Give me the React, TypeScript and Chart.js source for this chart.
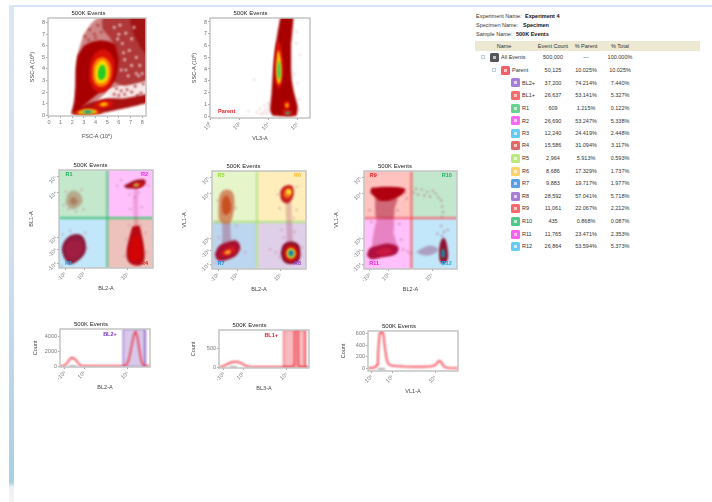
import React, { useEffect, useRef } from "react";
import { Chart, registerables } from "chart.js";

Chart.register(...registerables);

type P = [number, number];
const FONT = "'Liberation Sans', Arial, sans-serif";

// ---------- Row 1, plot 1: FSC-A / SSC-A contours
const fsPale: P[] = [[1.95,0.1],[2.2,1.5],[2.3,3.5],[2.45,5.2],[3.0,7.0],[3.6,7.9],[4.3,8.5],[8.5,8.5],[8.5,3.2],[6.8,2.6],[5.2,2.2],[3.5,0.6],[1.95,0.1]];
const fsMid: P[] = [[4.6,8.5],[8.5,8.5],[8.5,3.1],[6.5,2.55],[5.4,3.0],[5.9,5.2],[5.3,6.6],[4.6,7.5],[4.6,8.5]];
const fsDeep: P[] = [[6.9,8.5],[8.5,8.5],[8.5,5.2],[7.9,5.8],[7.2,7.2],[6.9,8.5]];
const fsGap: P[] = [[5.0,2.15],[6.6,2.7],[8.5,3.2],[8.5,1.55],[6.6,1.25],[5.2,1.4],[5.0,2.15]];
const fsBand: P[] = [[1.9,0.12],[3.2,0.95],[5.0,1.45],[6.5,1.45],[8.5,1.8],[8.5,1.1],[6.6,0.62],[4.6,0.2],[3.0,0.06],[1.9,0.12]];
const fsBody: P[] = [[1.95,0.15],[2.2,1.2],[2.3,2.6],[2.3,4.0],[2.45,5.1],[3.0,6.0],[3.7,6.35],[4.4,6.5],[5.1,6.4],[5.7,6.1],[6.0,5.0],[5.9,4.0],[5.7,3.1],[5.3,2.5],[4.4,2.0],[3.2,1.0],[2.6,0.4],[1.95,0.15]];
const fsRed: P[] = [[3.45,3.0],[3.55,4.4],[4.0,5.4],[4.7,5.7],[5.4,5.2],[5.65,4.1],[5.4,2.8],[4.8,2.0],[4.0,2.1],[3.45,3.0]];
const fsOrange: P[] = [[3.75,3.2],[3.8,4.3],[4.2,4.9],[4.75,5.0],[5.25,4.5],[5.35,3.6],[5.1,2.8],[4.6,2.45],[4.05,2.6],[3.75,3.2]];
const fsYellow: P[] = [[3.98,3.2],[4.0,4.1],[4.35,4.65],[4.75,4.7],[5.05,4.2],[5.12,3.5],[4.9,2.95],[4.5,2.75],[4.15,2.85],[3.98,3.2]];
const fsGreen: P[] = [[4.2,3.4],[4.25,3.95],[4.5,4.35],[4.75,4.3],[4.88,3.8],[4.82,3.3],[4.55,3.05],[4.3,3.1],[4.2,3.4]];
const fsMidRed: P[] = [[3.8,0.8],[4.2,1.15],[4.9,1.3],[5.5,1.1],[5.4,0.75],[4.7,0.58],[4.0,0.6],[3.8,0.8]];
const fsMidOrange: P[] = [[4.2,0.9],[4.7,1.1],[5.1,1.0],[5.0,0.8],[4.6,0.74],[4.2,0.9]];
const fsMidYellow: P[] = [[4.4,0.92],[4.7,1.02],[4.95,0.95],[4.7,0.84],[4.4,0.92]];
const fsLowRed: P[] = [[2.0,0.12],[2.6,0.45],[3.4,0.62],[4.4,0.5],[4.6,0.2],[3.7,0.04],[2.6,0.02],[2.0,0.12]];
const fsLowYellow: P[] = [[2.4,0.22],[3.1,0.5],[3.9,0.46],[4.2,0.22],[3.4,0.08],[2.6,0.1],[2.4,0.22]];
const fsLowGreen: P[] = [[2.7,0.26],[3.3,0.42],[3.8,0.34],[3.7,0.18],[3.2,0.14],[2.7,0.26]];
const fsLowBlue: P[] = [[3.0,0.28],[3.35,0.36],[3.6,0.28],[3.3,0.2],[3.0,0.28]];
const fsPaleSpecks: P[] = [[6.1,7.8],[6.6,7.1],[7.1,6.6],[6.3,6.2],[6.9,5.6],[7.5,5.0],[6.5,4.8],[7.1,4.3],[7.8,4.3],[6.2,3.9],[6.8,3.4],[7.5,3.6],[8.0,3.6],[6.0,7.0],[6.4,5.4],[7.3,7.6],[5.6,7.6],[5.9,6.6],[7.7,3.4],[6.6,3.9]];
const fsDarkSpecks: P[] = [[3.1,6.8],[3.5,7.4],[3.9,7.0],[4.2,7.8],[4.5,7.2],[3.4,6.5],[4.0,6.7],[4.7,8.0],[5.0,7.4],[5.8,2.3],[6.2,2.1],[6.7,2.2],[7.1,2.0],[6.5,1.8],[7.4,2.5],[7.9,1.9],[8.1,2.7],[5.6,1.8],[6.0,1.7],[7.6,1.7]];

// ---------- Row 1, plot 2: VL3-A / SSC-A
const vsBody: P[] = [[4.85,8.7],[4.6,7],[4.42,5.5],[4.3,4],[4.25,3],[4.2,2],[4.1,0.5],[4.3,0.02],[5.9,0.02],[6.0,0.8],[5.75,2],[5.6,3],[5.55,4],[5.55,6],[5.7,8.7],[4.85,8.7]];
const vsRed: P[] = [[4.52,6.1],[4.4,4.5],[4.46,3.0],[4.7,2.3],[4.95,3.0],[5.0,4.5],[4.84,6.0],[4.65,6.4],[4.52,6.1]];
const vsYellow: P[] = [[4.6,5.3],[4.52,4.2],[4.58,3.0],[4.72,2.7],[4.86,3.2],[4.86,4.4],[4.76,5.3],[4.66,5.6],[4.6,5.3]];
const vsGreen: P[] = [[4.64,4.5],[4.6,3.7],[4.66,3.2],[4.74,3.1],[4.8,3.6],[4.78,4.4],[4.7,4.7],[4.64,4.5]];
const vsLowRed: P[] = [[4.95,0.2],[5.0,0.55],[5.28,0.6],[5.6,0.45],[5.65,0.15],[5.3,0.02],[4.95,0.2]];
const vsLowGreen: P[] = [[5.15,0.22],[5.28,0.4],[5.42,0.32],[5.42,0.14],[5.28,0.08],[5.15,0.22]];
const vsUpRed: P[] = [[5.02,0.85],[5.08,1.2],[5.3,1.3],[5.48,1.1],[5.45,0.7],[5.25,0.55],[5.02,0.85]];
const vsUpYellow: P[] = [[5.14,0.9],[5.22,1.1],[5.34,1.05],[5.36,0.8],[5.24,0.7],[5.14,0.9]];
const vsSparse: P[] = [[3.2,0.3],[3.4,0.6],[3.6,0.25],[3.7,0.9],[3.75,0.45],[3.85,0.2],[3.9,0.65],[3.95,1.1],[4.0,0.4],[4.05,0.9],[3.0,3.1],[6.05,0.5],[6.1,1.4],[6.15,5.2],[5.9,6.2],[5.95,7.2],[6.0,2.8],[5.8,3.6],[3.5,0.15],[2.6,0.4]];
const parentLabel = [{ x: 1.1, y: 0.42, text: "Parent", color: "#ee1c25" }];

// ---------- Row 2, plot A: BL2-A / BL1-A (axis units 0-100)
const r1Cloud: P[] = [[7,66],[9,75],[15,79],[22,76],[25,68],[20,62],[13,60],[7,66]];
const r1Core: P[] = [[11,67],[13,72],[17,72],[20,68],[16,64],[11,67]];
const r3Blob: P[] = [[5,11],[3,20],[7,29],[14,34],[23,34],[28,27],[28,16],[21,8],[11,4],[5,11]];
const r3Core: P[] = [[9,12],[7,20],[11,27],[19,29],[25,24],[23,14],[15,8],[9,12]];
const r2Blob: P[] = [[69,84],[75,87],[83,90],[91,90],[92,86],[86,82],[78,81],[71,82],[69,84]];
const r2Red: P[] = [[76,84],[82,87],[89,87],[89,84],[82,82],[76,84]];
const r2Yellow: P[] = [[79,84.5],[82,86.5],[85,85.5],[84,83.5],[80,83.5],[79,84.5]];
const r2Blue: P[] = [[81,84.8],[83,85.5],[84,84.7],[82,84],[81,84.8]];
const r2Plume: P[] = [[80,81],[79,66],[80,50],[84,50],[84,66],[84,81],[80,81]];
const r4Blob: P[] = [[78,42],[75,32],[72,18],[73,8],[79,3],[87,3],[91,10],[90,24],[88,34],[85,43],[78,42]];
const r4Core: P[] = [[79,31],[75,18],[77,9],[84,7],[88,14],[87,26],[83,33],[79,31]];
const r4Plume: P[] = [[80,50],[80,38],[84,38],[84,50],[80,50]];
const blA: P[] = [[5,64],[7,78],[24,80],[26,60],[18,58],[10,60],[3,2],[30,20],[4,34],[28,36],[12,38],[71,30],[92,36],[70,12],[93,16],[74,44],[87,44],[76,60],[88,62],[81,72],[75,75],[85,77],[62,84],[66,90],[95,84]];

// ---------- Row 2, plot B: BL2-A / VL1-A
const r5Cloud: P[] = [[7,52],[7,66],[9,77],[15,81],[22,78],[24,66],[22,54],[19,47],[10,47],[7,52]];
const r5Core: P[] = [[11,58],[11,70],[15,75],[19,71],[20,60],[15,55],[11,58]];
const r5Plume: P[] = [[11,48],[11,35],[11,22],[21,22],[20,34],[19,48],[11,48]];
const r7Blob: P[] = [[3,15],[7,23],[15,27],[25,29],[30,23],[26,14],[15,9],[6,9],[3,15]];
const r7Red: P[] = [[8,15],[15,21],[23,23],[25,18],[15,13],[8,15]];
const r7Orange: P[] = [[12,16],[16,19],[20,19],[18,15],[12,16]];
const r6Red: P[] = [[73,72],[73,80],[78,85],[85,85],[87,78],[85,71],[80,67],[75,69],[73,72]];
const r6Orange: P[] = [[76,75],[78,81],[84,82],[85,76],[80,72],[76,75]];
const r6Yellow: P[] = [[79,77],[80,81],[84,80],[83,76],[79,77]];
const r6Plume: P[] = [[78,70],[79,50],[80,26],[86,26],[85,50],[84,70],[78,70]];
const r8Dark: P[] = [[73,16],[76,25],[84,28],[92,25],[94,16],[92,8],[84,5],[76,8],[73,16]];
const r8Red: P[] = [[76,16],[78,22],[84,25],[90,22],[92,16],[90,10],[84,7],[78,10],[76,16]];
const r8Yellow: P[] = [[79,16],[80.5,20],[84,21.5],[87.5,20],[89,16],[87.5,12],[84,10.5],[80.5,12],[79,16]];
const r8Green: P[] = [[80.5,16],[82,19],[84,20],[86,19],[87.5,16],[86,13],[84,12],[82,13],[80.5,16]];
const r8Blue: P[] = [[82,16],[84,18.5],[86,16],[84,14],[82,16]];
const blB: P[] = [[5,48],[6,70],[25,62],[26,44],[7,32],[24,30],[30,20],[35,17],[3,6],[62,20],[68,17],[72,12],[95,14],[96,22],[72,62],[90,60],[70,76],[90,84],[74,40],[88,38],[76,32],[87,52]];

// ---------- Row 2, plot C: BL2-A / VL1-A
const r9Band: P[] = [[8,83],[25,84],[44,82],[42,77],[36,73],[28,70],[16,70],[10,75],[7,78],[8,83]];
const r9Fade: P[] = [[12,72],[12,62],[13,52],[32,52],[33,62],[36,72],[12,72]];
const r11Plume: P[] = [[14,52],[11,40],[9,22],[36,22],[32,36],[32,52],[14,52]];
const r11Blob: P[] = [[3,14],[6,21],[15,24],[26,26],[37,22],[34,15],[20,12],[8,10],[3,14]];
const r11Core: P[] = [[12,16],[18,21],[28,21],[30,17],[20,14],[12,16]];
const r12Blob: P[] = [[81,10],[81,22],[84,31],[87,31],[90,20],[90,10],[86,5],[83,6],[81,10]];
const r12Green: P[] = [[83,14],[84,20],[86,20],[87,14],[85,11],[83,14]];
const r12Blue: P[] = [[84,15],[85,18],[86,15],[85,13],[84,15]];
const r12Left: P[] = [[56,17],[62,21],[72,24],[80,20],[74,15],[64,14],[56,17]];
const blC: P[] = [[53,78],[56,82],[58,76],[62,81],[65,75],[68,79],[71,74],[74,80],[77,77],[80,73],[83,70],[84,64],[85,58],[84,53],[83,44],[86,38],[84,34],[44,78],[46,72],[6,60],[8,48],[38,46],[36,60],[40,30],[42,20],[47,18],[50,16],[79,36],[90,40]];

// ---------- Row 3 histograms
const histAx = [0,2,4,6,8,10,12,14,16,18,20,22,24,27,30,40,50,60,66,70,72,74,76,78,80,82,84,86,88,90,92,94,97,100];
const histAy = [0,10,30,150,420,800,1080,1120,1000,760,420,160,40,8,5,4,4,5,8,20,60,180,700,1700,3000,4200,4640,3900,2300,800,200,40,5,0];
const histBx = [0,3,5,8,11,14,17,19,22,25,28,31,34,40,50,60,68,74,78,82,83.5,84,87.5,88,90,93,96,100];
const histBy = [2,6,25,60,100,125,136,139,125,95,55,22,8,3,2,2,3,4,6,10,60,1200,1200,50,8,4,2,2];
const histCx = [0,4,8,10,11,12,13,15,17,19,21,23,26,30,40,50,60,68,72,75,77,79,81,83,85,88,92,100];
const histCy = [5,8,20,60,200,440,600,640,600,330,130,70,48,40,32,28,26,30,40,60,100,130,115,60,25,10,6,4];
const markA: P[] = [[10,-60],[18,-60]];
const markB: P[] = [[12,-8],[20,-8]];
const markC: P[] = [[11,-14],[19,-14]];
const gateA: P[] = [[70.3,-135],[70.3,5000],[94.4,5000],[94.4,-135],[70.3,-135]];
const gateB: P[] = [[72,-26],[72,974],[95.6,974],[95.6,-26],[72,-26]];

// ---------- Ticks
const linTicks = [0,1,2,3,4,5,6,7,8];
const logTicks = [0,2,4,6];
const logLabels = ["10\u2070","10\u00b2","10\u2074","10\u2076"];
const biTicks = [6.4,26.6,73.4];
const biLabels = ["-10\u00b3","10\u00b3","10\u2075"];
const biYTicks = [93,77,31,19,5];
const biYLabels = ["10\u2075","10\u2074","10\u00b3","-10\u00b3","-10\u2074"];

// ---------- Table
const tableRows: [string,string,string,string,string,number][] = [
  ["All Events","500,000","---","100.000%","#55555a",0],
  ["Parent","50,125","10.025%","10.025%","#f4606a",1],
  ["BL2+","37,200","74.214%","7.440%","#a680d8",2],
  ["BL1+","26,637","53.141%","5.327%","#f66a6a",2],
  ["R1","609","1.215%","0.122%","#66d48e",2],
  ["R2","26,690","53.247%","5.338%","#f86af0",2],
  ["R3","12,240","24.419%","2.448%","#66ccf4",2],
  ["R4","15,586","31.094%","3.117%","#e06a6a",2],
  ["R5","2,964","5.913%","0.593%","#bce87e",2],
  ["R6","8,686","17.329%","1.737%","#fcd36a",2],
  ["R7","9,883","19.717%","1.977%","#5a9ee6",2],
  ["R8","28,592","57.041%","5.718%","#a87ed4",2],
  ["R9","11,061","22.067%","2.212%","#f66a6a",2],
  ["R10","435","0.868%","0.087%","#50c886",2],
  ["R11","11,765","23.471%","2.353%","#f860f0",2],
  ["R12","26,864","53.594%","5.373%","#66ccf4",2],
];
const tableTop = [57,70,82.5,95,108,120.5,133,145,158,171,183,196,208,221,234,246];
const metaRows: [string,string,number,number][] = [
  ["Experiment Name:","Experiment 4",15.7,525],
  ["Specimen Name:","Specimen",25,523],
  ["Sample Name:","500K Events",34,516],
];

function poly(points: P[], color: string, border?: string, bw = 0, tension = 0.35) {
  return {
    data: points.map(([x, y]) => ({ x, y })),
    showLine: true, fill: "shape", backgroundColor: color,
    borderColor: border ?? "transparent", borderWidth: bw, pointRadius: 0, tension,
  };
}
const big = (points: P[], color: string) => poly(points, color, undefined, 0, 0.12);
function dots(points: P[], color: string, r = 0.9) {
  return {
    data: points.map(([x, y]) => ({ x, y })),
    showLine: false, pointRadius: r, pointBorderWidth: 0,
    pointBackgroundColor: color, backgroundColor: color, borderColor: color,
  };
}
function curve(xs: number[], ys: number[], color: string, bw = 1.5) {
  return {
    data: xs.map((x, i) => ({ x, y: ys[i] })),
    showLine: true, fill: false, borderColor: color, borderWidth: bw, pointRadius: 0, tension: 0,
  };
}
function stroke(points: P[], color: string, bw = 1) {
  return { data: points.map(([x, y]) => ({ x, y })), showLine: true, fill: false, borderColor: color, borderWidth: bw, pointRadius: 0, tension: 0 };
}
function quad(x0: number, y0: number, x1: number, y1: number): P[] {
  return [[x0,y0],[x0,y1],[x1,y1],[x1,y0],[x0,y0]];
}

const overlay = {
  id: "overlay",
  beforeDatasetsDraw(chart: any) {
    chart.ctx.filter = "blur(1px)";
  },
  afterDatasetsDraw(chart: any, _a: any, opts: any) {
    const { ctx, chartArea: c, scales } = chart;
    ctx.filter = "none";
    ctx.save();
    ctx.textAlign = "center"; ctx.textBaseline = "middle";
    for (const l of opts.labels ?? []) {
      ctx.fillStyle = l.color;
      ctx.font = `bold 5.5px ${FONT}`;
      ctx.fillText(l.text, scales.x.getPixelForValue(l.x), scales.y.getPixelForValue(l.y));
    }
    ctx.strokeStyle = "#c4c4c4"; ctx.lineWidth = 1.5;
    ctx.strokeRect(c.left, c.top, c.right - c.left, c.bottom - c.top);
    ctx.restore();
  },
};

type Spec = {
  key: string; box: [number, number, number, number]; titleCx: number; left: number;
  xRange: [number, number]; yRange: [number, number];
  xTicks: number[]; xLabels: string[]; yTicks: number[]; yLabels: string[]; yRot: number; xRot: number;
  xTitle: string; yTitle: string; xAxisH: number; datasets: any[]; labels?: any[];
};

const tickFont = { family: FONT, size: 5.5 };
const greenCross = "#40be78";

const specs: Spec[] = [
  {
    key: "fsc", box: [48,18,148,116], titleCx: 89.5, left: 29,
    xRange: [-0.08,8.33], yRange: [-0.08,8.42], xTicks: linTicks, xLabels: linTicks.map(String), yTicks: linTicks, yLabels: linTicks.map(String), yRot: 0, xRot: 0,
    xTitle: "FSC-A (10\u2076)", yTitle: "SSC-A (10\u2076)", xAxisH: 24,
    datasets: [
      big(fsPale, "#cf8585"), big(fsGap, "#f8e8e8"), big(fsMid, "#b03838"), big(fsDeep, "#a21414"),
      dots(fsPaleSpecks, "#efd2d2", 1.4), dots(fsDarkSpecks, "#b03c3c", 1.4),
      big(fsBand, "#aa1010"), big(fsBody, "#a80000"), poly(fsRed, "#d81008"), poly(fsOrange, "#ff7a00"),
      poly(fsYellow, "#ffdd00"), poly(fsGreen, "#22cc22"),
      poly(fsMidRed, "#d41008"), poly(fsMidOrange, "#ff8000"), poly(fsMidYellow, "#ffd800"),
      poly(fsLowRed, "#d81008"), poly(fsLowYellow, "#ffc800"), poly(fsLowGreen, "#38c060"), poly(fsLowBlue, "#2a60d0"),
    ],
  },
  {
    key: "ssc", box: [210,18,310,118], titleCx: 253, left: 191,
    xRange: [-0.05,6.85], yRange: [-0.17,8.34], xTicks: logTicks, xLabels: logLabels, yTicks: linTicks, yLabels: linTicks.map(String), yRot: 0, xRot: 45,
    xTitle: "VL3-A", yTitle: "SSC-A (10\u2076)", xAxisH: 24,
    datasets: [
      dots(vsSparse, "#e0b0b0"), big(vsBody, "#a80000"), poly(vsRed, "#d81008"), poly(vsYellow, "#ffd000"), poly(vsGreen, "#22cc66"),
      poly(vsLowRed, "#d01810"), poly(vsLowGreen, "#40a070"), poly(vsUpRed, "#d81008"), poly(vsUpYellow, "#ffb800"),
    ],
    labels: parentLabel,
  },
  {
    key: "a", box: [59,170,153,268], titleCx: 94, left: 28,
    xRange: [0,100], yRange: [0,100], xTicks: biTicks, xLabels: biLabels, yTicks: biYTicks, yLabels: biYLabels, yRot: 45, xRot: 45,
    xTitle: "BL2-A", yTitle: "BL1-A", xAxisH: 24,
    datasets: [
      poly(quad(-5,51,51.4,105), "#c4e8cc", undefined, 0, 0), poly(quad(51.4,51,105,105), "#ffc0fb", undefined, 0, 0),
      poly(quad(-5,-5,51.4,51), "#c2e7fa", undefined, 0, 0), poly(quad(51.4,-5,105,51), "#eec2bc", undefined, 0, 0),
      stroke([[51.4,0],[51.4,100]], greenCross, 1.8), stroke([[0,51],[100,51]], greenCross, 1.8),
      poly(r1Cloud, "rgba(175,130,100,0.6)"), poly(r1Core, "rgba(160,100,70,0.6)"),
      dots(blA, "#c88098"), big(r2Plume, "rgba(190,60,130,0.25)"), big(r4Plume, "rgba(190,40,70,0.25)"),
      poly(r3Blob, "#8a1c3e"), poly(r3Core, "#a01e42"),
      poly(r4Blob, "#b80a14"), poly(r4Core, "#d20404"),
      poly(r2Blob, "#a01020"), poly(r2Red, "#d01818"), poly(r2Yellow, "#e8b030"), poly(r2Blue, "#3a8a9a"),
    ],
    labels: [
      { x: 10.6, y: 95, text: "R1", color: "#20b060" }, { x: 91, y: 95, text: "R2", color: "#f020e0" },
      { x: 10, y: 5, text: "R3", color: "#20a8f0" }, { x: 91, y: 5, text: "R4", color: "#d02020" },
    ],
  },
  {
    key: "b", box: [212,171,306,269], titleCx: 246.5, left: 181,
    xRange: [0,100], yRange: [0,100], xTicks: biTicks, xLabels: biLabels, yTicks: biYTicks, yLabels: biYLabels, yRot: 45, xRot: 45,
    xTitle: "BL2-A", yTitle: "VL1-A", xAxisH: 24,
    datasets: [
      poly(quad(-5,48,48,105), "#e6f5ca", undefined, 0, 0), poly(quad(48,48,105,105), "#ffeebc", undefined, 0, 0),
      poly(quad(-5,-5,48,48), "#bdd6ef", undefined, 0, 0), poly(quad(48,-5,105,48), "#e0cfe9", undefined, 0, 0),
      stroke([[48,0],[48,100]], "#a8e070", 1.8), stroke([[0,48],[100,48]], "#a8e070", 1.8),
      dots(blB, "#c88098"), big(r5Plume, "rgba(150,70,105,0.4)"), big(r6Plume, "rgba(170,70,100,0.3)"),
      poly(r5Cloud, "rgba(205,115,75,0.8)"), poly(r5Core, "#c85020"),
      poly(r7Blob, "#a81030"), poly(r7Red, "#d01820"), poly(r7Orange, "#ffa020"),
      poly(r6Red, "#c82020"), poly(r6Orange, "#f07010"), poly(r6Yellow, "#ffe040"),
      poly(r8Dark, "#8a1030"), poly(r8Red, "#cc1010"), poly(r8Yellow, "#f0d020"), poly(r8Green, "#30b070"), poly(r8Blue, "#3060d0"),
    ],
    labels: [
      { x: 9.6, y: 95, text: "R5", color: "#90d830" }, { x: 91, y: 95, text: "R6", color: "#f8b820" },
      { x: 9.6, y: 6, text: "R7", color: "#2080e0" }, { x: 91, y: 6, text: "R8", color: "#9040d0" },
    ],
  },
  {
    key: "c", box: [364,171,457,269], titleCx: 398, left: 333,
    xRange: [0,100], yRange: [0,100], xTicks: biTicks, xLabels: biLabels, yTicks: biYTicks, yLabels: biYLabels, yRot: 45, xRot: 45,
    xTitle: "BL2-A", yTitle: "VL1-A", xAxisH: 24,
    datasets: [
      poly(quad(-5,52,51,105), "#ffc2be", undefined, 0, 0), poly(quad(51,52,105,105), "#c2e7cc", undefined, 0, 0),
      poly(quad(-5,-5,51,52), "#ffc0fb", undefined, 0, 0), poly(quad(51,-5,105,52), "#c2e7fa", undefined, 0, 0),
      stroke([[51,0],[51,100]], "#f05058", 1.8), stroke([[0,52],[100,52]], "#f05058", 1.8),
      dots(blC, "#b06078"), big(r9Fade, "rgba(170,30,60,0.55)"), big(r11Plume, "rgba(195,40,110,0.4)"),
      poly(r9Band, "#b00010"), poly(r11Blob, "#b01040"), poly(r11Core, "#c81840"),
      poly(r12Left, "rgba(130,30,90,0.35)"),
      poly(r12Blob, "#901030"), poly(r12Green, "#20a080"), poly(r12Blue, "#2050d0"),
    ],
    labels: [
      { x: 10, y: 95, text: "R9", color: "#e82020" }, { x: 89, y: 95, text: "R10", color: "#20b060" },
      { x: 11, y: 6, text: "R11", color: "#f020e0" }, { x: 89, y: 6, text: "R12", color: "#20b0f0" },
    ],
  },
  {
    key: "h1", box: [60,329,150,367], titleCx: 94, left: 32,
    xRange: [0,100], yRange: [-135,5000], xTicks: [5.5,27,75.5], xLabels: biLabels, yTicks: [0,2000,4000], yLabels: ["0","2000","4000"], yRot: 0, xRot: 45,
    xTitle: "BL2-A", yTitle: "Count", xAxisH: 24,
    datasets: [poly(gateA, "#d8c8ea", "#8a58c8", 1, 0), curve(histAx, histAy, "#f02a38"), stroke(markA, "#444", 1)],
    labels: [{ x: 55.5, y: 4200, text: "BL2+", color: "#7a30d0" }],
  },
  {
    key: "h2", box: [219,330,309,368], titleCx: 254, left: 190,
    xRange: [0,100], yRange: [-26,974], xTicks: [5.5,27,75.5], xLabels: biLabels, yTicks: [0,500], yLabels: ["0","500"], yRot: 0, xRot: 45,
    xTitle: "BL3-A", yTitle: "Count", xAxisH: 24,
    datasets: [poly(gateB, "#f8bcc0", "#ee4050", 1, 0), curve(histBx, histBy, "#f02a38"), stroke(markB, "#444", 1)],
    labels: [{ x: 58, y: 840, text: "BL1+", color: "#ee1c25" }],
  },
  {
    key: "h3", box: [368,331,458,371], titleCx: 402, left: 340,
    xRange: [0,100], yRange: [-45,640], xTicks: [4,27,75], xLabels: biLabels, yTicks: [0,200,400,600], yLabels: ["0","200","400","600"], yRot: 0, xRot: 45,
    xTitle: "VL1-A", yTitle: "Count", xAxisH: 24,
    datasets: [curve(histCx, histCy, "#f02a38"), stroke(markC, "#444", 1)],
  },
];

function Plot({ s }: { s: Spec }) {
  const ref = useRef<HTMLCanvasElement>(null);
  const [x0, y0, x1, y1] = s.box;
  const W = 2 * (s.titleCx - s.left);
  const titleH = 8;
  const top = y0 - titleH;
  const H = titleH + (y1 - y0) + s.xAxisH;
  useEffect(() => {
    const n = s.datasets.length;
    const chart = new Chart(ref.current as HTMLCanvasElement, {
      type: "scatter",
      data: { datasets: s.datasets.map((d, i) => ({ ...d, order: n - i })) },
      plugins: [overlay],
      options: {
        animation: false, responsive: false, maintainAspectRatio: false,
        layout: { padding: { left: 0, right: s.left + W - x1, top: 0, bottom: 0 } },
        plugins: {
          legend: { display: false }, tooltip: { enabled: false },
          title: { display: true, text: "500K Events", color: "#222", font: { family: FONT, size: 6, lineHeight: 1, weight: "normal" }, padding: { top: 0, bottom: titleH - 6 } },
          overlay: { labels: s.labels ?? [] },
        } as any,
        scales: {
          x: {
            type: "linear", min: s.xRange[0], max: s.xRange[1],
            grid: { drawOnChartArea: false, tickLength: 2, color: "#aaa" }, border: { display: false },
            afterBuildTicks: (a: any) => { a.ticks = s.xTicks.map((value) => ({ value })); },
            afterFit: (a: any) => { a.height = s.xAxisH; },
            ticks: { autoSkip: false, minRotation: s.xRot, maxRotation: s.xRot, padding: 1, color: "#777", font: tickFont, callback: (_v: any, i: number) => s.xLabels[i] },
            title: { display: true, text: s.xTitle, color: "#444", font: tickFont, padding: { top: 2, bottom: 0 } },
          },
          y: {
            type: "linear", min: s.yRange[0], max: s.yRange[1],
            grid: { drawOnChartArea: false, tickLength: 2, color: "#aaa" }, border: { display: false },
            afterBuildTicks: (a: any) => { a.ticks = s.yTicks.map((value) => ({ value })); },
            afterFit: (a: any) => { a.width = x0 - s.left; },
            ticks: { autoSkip: false, minRotation: s.yRot, maxRotation: s.yRot, padding: 1, color: "#777", font: tickFont, callback: (_v: any, i: number) => s.yLabels[i] },
            title: { display: true, text: s.yTitle, color: "#444", font: tickFont, padding: { top: 0, bottom: 0 } },
          },
        },
      } as any,
    });
    return () => chart.destroy();
  }, []);
  return <canvas ref={ref} width={W} height={H} style={{ position: "absolute", left: s.left, top, width: W, height: H }} />;
}

const abs = (left: number, top: number, extra: any = {}) => ({ position: "absolute" as const, left, top, lineHeight: "8px", whiteSpace: "nowrap" as const, ...extra });
const COLS = [553, 586, 620];

function Table() {
  return (
    <div style={{ position: "absolute", left: 0, top: 0, fontFamily: FONT, fontSize: 5.5, color: "#333" }}>
      {metaRows.map(([k, v, y, x]) => (
        <React.Fragment key={k}>
          <span style={abs(476, y - 4)}>{k}</span>
          <span style={abs(x, y - 4, { fontWeight: "bold", color: "#111" })}>{v}</span>
        </React.Fragment>
      ))}
      <div style={{ position: "absolute", left: 475, top: 41, width: 225, height: 10, background: "#ece8d2" }} />
      <span style={abs(504, 42, { transform: "translateX(-50%)" })}>Name</span>
      <span style={abs(553, 42, { transform: "translateX(-50%)" })}>Event Count</span>
      <span style={abs(586, 42, { transform: "translateX(-50%)" })}>% Parent</span>
      <span style={abs(620, 42, { transform: "translateX(-50%)" })}>% Total</span>
      {tableRows.map(([name, count, parent, total, color, level], i) => {
        const y = tableTop[i];
        const ix = level === 0 ? 490 : level === 1 ? 501 : 511;
        return (
          <React.Fragment key={name}>
            {level < 2 && <div style={{ position: "absolute", left: ix - 9, top: y - 2, width: 4, height: 4, border: "1px solid #bcd", boxSizing: "border-box" }} />}
            <div style={{ position: "absolute", left: ix, top: y - 4.5, width: 9, height: 9, background: color, borderRadius: 1.5 }}>
              <div style={{ position: "absolute", left: 3, top: 3, width: 3, height: 3, background: "rgba(255,255,255,0.65)" }} />
            </div>
            <span style={abs(ix + 11, y - 4)}>{name}</span>
            {[count, parent, total].map((t, j) => (
              <span key={j} style={abs(COLS[j], y - 4, { transform: "translateX(-50%)" })}>{t}</span>
            ))}
          </React.Fragment>
        );
      })}
    </div>
  );
}

export default function App() {
  useEffect(() => { document.body.style.margin = "0"; document.body.style.background = "#fff"; }, []);
  return (
    <div style={{ position: "relative", width: 712, height: 502, overflow: "hidden", background: "#fff", filter: "blur(0.6px)" }}>
      <div style={{ position: "absolute", left: 9, top: 5, width: 703, height: 2, background: "#d4e4f5" }} />
      <div style={{ position: "absolute", left: 9, top: 5, width: 5, height: 497, background: "linear-gradient(to bottom,#dce7f3 0%,#cfe0ef 50%,#a9cfe2 96%,#eef0f4 97%,#f4f4f6 100%)" }} />
      {specs.map((s) => <Plot key={s.key} s={s} />)}
      <Table />
    </div>
  );
}
